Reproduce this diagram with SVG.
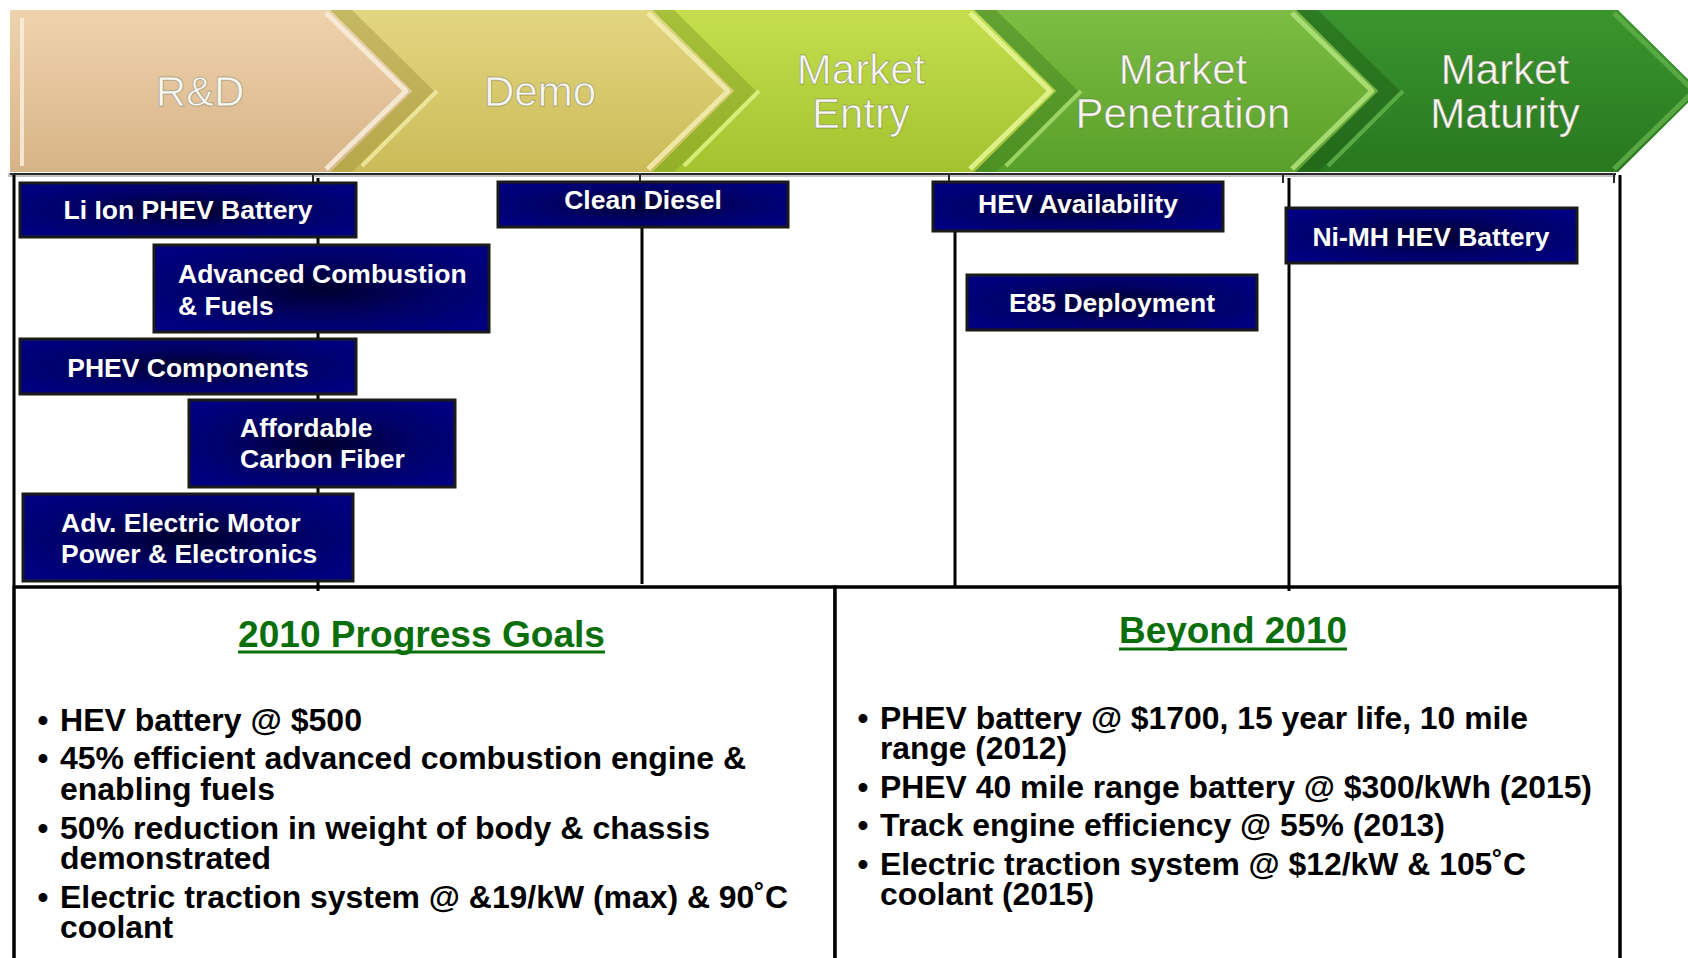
<svg xmlns="http://www.w3.org/2000/svg" width="1688" height="958" viewBox="0 0 1688 958">
  <defs>
    <linearGradient id="fill-rd" x1="0" y1="0" x2="0" y2="1">
      <stop offset="0" stop-color="#efd3ad"/>
      <stop offset="1" stop-color="#d7b388"/>
    </linearGradient>
    <linearGradient id="fill-demo" x1="0" y1="0" x2="0" y2="1">
      <stop offset="0" stop-color="#e3d681"/>
      <stop offset="1" stop-color="#cbbb58"/>
    </linearGradient>
    <linearGradient id="fill-entry" x1="0" y1="0" x2="0" y2="1">
      <stop offset="0" stop-color="#c6de4e"/>
      <stop offset="1" stop-color="#a2c32e"/>
    </linearGradient>
    <linearGradient id="fill-pen" x1="0" y1="0" x2="0" y2="1">
      <stop offset="0" stop-color="#7dbd43"/>
      <stop offset="1" stop-color="#58a02a"/>
    </linearGradient>
    <linearGradient id="fill-mat" x1="0" y1="0" x2="0" y2="1">
      <stop offset="0" stop-color="#3b952f"/>
      <stop offset="1" stop-color="#28781e"/>
    </linearGradient>
    <radialGradient id="navy" cx="0.5" cy="0.5" r="0.6">
      <stop offset="0" stop-color="#00002c"/>
      <stop offset="0.55" stop-color="#000066"/>
      <stop offset="1" stop-color="#000080"/>
    </radialGradient>
  </defs>
  <style>
    .stage text { font-family: "Liberation Sans", Arial, sans-serif; font-size: 42px; fill: #f7f7f0; stroke: #5a5a40; stroke-opacity: 0.4; stroke-width: 1px; text-anchor: middle; }
    .edge-light { fill: none; stroke-width: 5; stroke-linejoin: round; opacity: 0.85; }
    .notch-dark { opacity: 0.4; }
    .notch-light { fill: none; stroke-width: 4; opacity: 0.8; }
    .box rect { fill: url(#navy); stroke: #1a1a1a; stroke-width: 3; }
    .box text { font-family: "Liberation Sans", Arial, sans-serif; font-size: 26.5px; font-weight: bold; fill: #ffffff; }
    .mid { text-anchor: middle; }
    .grid line { stroke: #000; stroke-width: 3; }
    .tick line { stroke: #2b2b2b; stroke-width: 2; }
    .panel rect { fill: #fff; stroke: #000; stroke-width: 3; }
    .panel .title { font-family: "Liberation Sans", Arial, sans-serif; font-size: 36px; font-weight: bold; fill: #0a6e0a; }
    .panel .uline { stroke: #0a6e0a; stroke-width: 3; }
    .panel .item { font-family: "Liberation Sans", Arial, sans-serif; font-size: 31px; font-weight: bold; fill: #000; }
    .panel .dot { font-family: "Liberation Sans", Arial, sans-serif; font-size: 31px; font-weight: bold; fill: #000; text-anchor: middle; }
  </style>

  <rect width="1688" height="958" fill="#ffffff"/>

  <!-- stage banner -->
  <g id="stages">
    <line x1="8" y1="175" x2="1616" y2="175" stroke="#9c9c9c" stroke-width="4" opacity="0.6"/>

    <g id="stage-rd" class="stage">
      <polygon points="10,10 330,10 412,91 330,172 10,172" fill="url(#fill-rd)"/>
      <line x1="22" y1="18" x2="22" y2="166" stroke="#fbf1e2" stroke-width="4" opacity="0.8"/>
      <polyline class="edge-light" points="326,13 406,91 326,169" stroke="#f8eedc"/>
      <text x="200" y="106">R&amp;D</text>
    </g>

    <g id="stage-demo" class="stage">
      <polygon points="330,10 652,10 734,91 652,172 330,172 412,91" fill="url(#fill-demo)"/>
      <polygon class="notch-dark" points="330,10 412,91 330,172 352,172 434,91 352,10" fill="#9a8c38"/>
      <polyline class="notch-light" points="362,166 437,91" stroke="#f1eba6"/>
      <polyline class="edge-light" points="648,13 728,91 648,169" stroke="#f3eeb4"/>
      <text x="540" y="106">Demo</text>
    </g>

    <g id="stage-entry" class="stage">
      <polygon points="652,10 974,10 1056,91 974,172 652,172 734,91" fill="url(#fill-entry)"/>
      <polygon class="notch-dark" points="652,10 734,91 652,172 674,172 756,91 674,10" fill="#7a9420"/>
      <polyline class="notch-light" points="684,166 759,91" stroke="#e4f48c"/>
      <polyline class="edge-light" points="970,13 1050,91 970,169" stroke="#e8f79a"/>
      <text x="861" y="84">Market</text>
      <text x="861" y="128">Entry</text>
    </g>

    <g id="stage-penetration" class="stage">
      <polygon points="974,10 1296,10 1378,91 1296,172 974,172 1056,91" fill="url(#fill-pen)"/>
      <polygon class="notch-dark" points="974,10 1056,91 974,172 996,172 1078,91 996,10" fill="#3c7818"/>
      <polyline class="notch-light" points="1006,166 1081,91" stroke="#a9de72"/>
      <polyline class="edge-light" points="1292,13 1372,91 1292,169" stroke="#b2e37c"/>
      <text x="1183" y="84">Market</text>
      <text x="1183" y="128">Penetration</text>
    </g>

    <g id="stage-maturity" class="stage">
      <polygon points="1296,10 1618,10 1700,91 1618,172 1296,172 1378,91" fill="url(#fill-mat)"/>
      <polygon class="notch-dark" points="1296,10 1378,91 1296,172 1318,172 1400,91 1318,10" fill="#1b5612"/>
      <polyline class="notch-light" points="1328,166 1403,91" stroke="#62b34c"/>
      <polyline class="edge-light" points="1614,13 1694,91 1614,169" stroke="#5fae48" opacity="0.6"/>
      <text x="1505" y="84">Market</text>
      <text x="1505" y="128">Maturity</text>
    </g>

    <g class="tick">
      <line x1="10" y1="174" x2="1616" y2="174"/>
      <line x1="14" y1="174" x2="14" y2="183"/>
      <line x1="313" y1="174" x2="313" y2="183"/>
      <line x1="640" y1="174" x2="640" y2="183"/>
      <line x1="949" y1="174" x2="949" y2="183"/>
      <line x1="1283" y1="174" x2="1283" y2="183"/>
      <line x1="1614" y1="174" x2="1614" y2="183"/>
    </g>
  </g>

  <!-- bottom goal panels -->
  <g id="goals-2010" class="panel">
    <rect x="14" y="587" width="821" height="390"/>
    <text class="title" x="238" y="647" textLength="367" lengthAdjust="spacingAndGlyphs">2010 Progress Goals</text>
    <line class="uline" x1="238" y1="652" x2="605" y2="652"/>
    <text class="dot" x="43" y="731">•</text>
    <text class="item" x="60" y="731" textLength="302" lengthAdjust="spacingAndGlyphs">HEV battery @ $500</text>
    <text class="dot" x="43" y="769">•</text>
    <text class="item" x="60" y="769" textLength="686" lengthAdjust="spacingAndGlyphs">45% efficient advanced combustion engine &amp;</text>
    <text class="item" x="60" y="800" textLength="215" lengthAdjust="spacingAndGlyphs">enabling fuels</text>
    <text class="dot" x="43" y="839">•</text>
    <text class="item" x="60" y="839" textLength="650" lengthAdjust="spacingAndGlyphs">50% reduction in weight of body &amp; chassis</text>
    <text class="item" x="60" y="869" textLength="211" lengthAdjust="spacingAndGlyphs">demonstrated</text>
    <text class="dot" x="43" y="908">•</text>
    <text class="item" x="60" y="908" textLength="728" lengthAdjust="spacingAndGlyphs">Electric traction system @ &amp;19/kW (max) &amp; 90˚C</text>
    <text class="item" x="60" y="938" textLength="113" lengthAdjust="spacingAndGlyphs">coolant</text>
  </g>

  <g id="goals-beyond" class="panel">
    <rect x="835" y="587" width="785" height="390"/>
    <text class="title" x="1119" y="643" textLength="228" lengthAdjust="spacingAndGlyphs">Beyond 2010</text>
    <line class="uline" x1="1119" y1="649" x2="1347" y2="649"/>
    <text class="dot" x="863" y="729">•</text>
    <text class="item" x="880" y="729" textLength="648" lengthAdjust="spacingAndGlyphs">PHEV battery @ $1700, 15 year life, 10 mile</text>
    <text class="item" x="880" y="759" textLength="187" lengthAdjust="spacingAndGlyphs">range (2012)</text>
    <text class="dot" x="863" y="798">•</text>
    <text class="item" x="880" y="798" textLength="712" lengthAdjust="spacingAndGlyphs">PHEV 40 mile range battery @ $300/kWh (2015)</text>
    <text class="dot" x="863" y="836">•</text>
    <text class="item" x="880" y="836" textLength="565" lengthAdjust="spacingAndGlyphs">Track engine efficiency @ 55% (2013)</text>
    <text class="dot" x="863" y="875">•</text>
    <text class="item" x="880" y="875" textLength="646" lengthAdjust="spacingAndGlyphs">Electric traction system @ $12/kW &amp; 105˚C</text>
    <text class="item" x="880" y="905" textLength="214" lengthAdjust="spacingAndGlyphs">coolant (2015)</text>
  </g>

  <!-- timeline frame and stage lines -->
  <g id="connectors" class="grid">
    <line x1="14" y1="175" x2="14" y2="958"/>
    <line x1="318" y1="178" x2="318" y2="591"/>
    <line x1="642" y1="227" x2="642" y2="584"/>
    <line x1="955" y1="231" x2="955" y2="588"/>
    <line x1="1289" y1="178" x2="1289" y2="591"/>
    <line x1="1620" y1="175" x2="1620" y2="958"/>
    <line x1="14" y1="587" x2="1620" y2="587"/>
    <line x1="835" y1="587" x2="835" y2="958"/>
  </g>

  <!-- technology boxes -->
  <g id="li-ion-phev-battery" class="box">
    <rect x="20" y="183" width="336" height="54"/>
    <text class="mid" x="188" y="219">Li Ion PHEV Battery</text>
  </g>
  <g id="advanced-combustion" class="box">
    <rect x="154" y="245" width="335" height="87"/>
    <text x="178" y="283">Advanced Combustion</text>
    <text x="178" y="315">&amp; Fuels</text>
  </g>
  <g id="phev-components" class="box">
    <rect x="20" y="339" width="336" height="55"/>
    <text class="mid" x="188" y="377">PHEV Components</text>
  </g>
  <g id="carbon-fiber" class="box">
    <rect x="189" y="400" width="266" height="87"/>
    <text x="240" y="437">Affordable</text>
    <text x="240" y="468">Carbon Fiber</text>
  </g>
  <g id="electric-motor" class="box">
    <rect x="23" y="494" width="330" height="87"/>
    <text x="61" y="532">Adv. Electric Motor</text>
    <text x="61" y="563">Power &amp; Electronics</text>
  </g>
  <g id="clean-diesel" class="box">
    <rect x="498" y="182" width="290" height="45"/>
    <text class="mid" x="643" y="209">Clean Diesel</text>
  </g>
  <g id="hev-availability" class="box">
    <rect x="933" y="182" width="290" height="49"/>
    <text class="mid" x="1078" y="213">HEV Availability</text>
  </g>
  <g id="e85-deployment" class="box">
    <rect x="967" y="275" width="290" height="55"/>
    <text class="mid" x="1112" y="312">E85 Deployment</text>
  </g>
  <g id="nimh-hev-battery" class="box">
    <rect x="1286" y="208" width="291" height="55"/>
    <text class="mid" x="1431" y="246">Ni-MH HEV Battery</text>
  </g>
</svg>
